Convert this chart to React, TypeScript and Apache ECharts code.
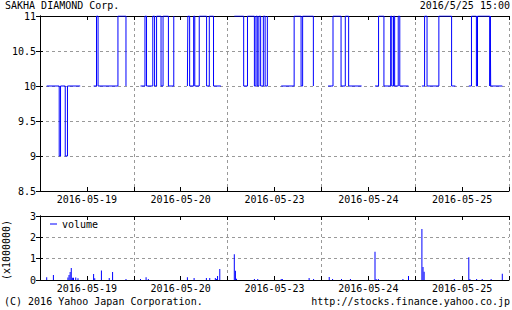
import React, { useEffect, useRef } from 'react';
import * as echarts from 'echarts';

const stockName = 'SAKHA DIAMOND Corp.';
const stamp = '2016/5/25 15:00';
const copyright = '(C) 2016 Yahoo Japan Corporation.';
const sourceUrl = 'http://stocks.finance.yahoo.co.jp';
const volumeUnit = '(x1000000)';
const dayLabels = ['2016-05-19', '2016-05-20', '2016-05-23', '2016-05-24', '2016-05-25'];

// price change points per trading session: [time, price]
const price0519am: [string, number][] = [['09:00', 10], ['09:56', 9], ['10:02', 10], ['10:23', 9], ['10:33', 10], ['11:30', 10]];
const price0519pm: [string, number][] = [['12:30', 10], ['12:43', 11], ['12:50', 10], ['14:19', 11], ['14:55', 10]];
const price0520am: [string, number][] = [['09:00', 10], ['09:20', 11], ['09:27', 10], ['09:55', 11], ['10:03', 10], ['10:12', 11], ['10:32', 10], ['10:41', 11], ['11:05', 10], ['11:29', 11]];
const price0520pm: [string, number][] = [['12:30', 10], ['12:32', 11], ['12:40', 10], ['12:58', 11], ['13:03', 10], ['13:23', 11], ['13:56', 10], ['14:08', 11], ['14:27', 10], ['15:00', 10]];
const price0523am: [string, number][] = [['09:00', 11], ['09:42', 10], ['09:59', 11], ['10:30', 10], ['10:37', 11], ['10:43', 10], ['10:50', 11], ['10:58', 10], ['11:10', 11], ['11:18', 10], ['11:28', 11]];
const price0523pm: [string, number][] = [['12:30', 10], ['13:28', 11], ['13:59', 10], ['14:06', 11], ['14:54', 10]];
const price0524am: [string, number][] = [['09:00', 10], ['09:22', 11], ['09:58', 10], ['10:17', 11], ['10:32', 10], ['11:30', 10]];
const price0524pm: [string, number][] = [['12:30', 10], ['12:46', 11], ['13:10', 10], ['13:40', 11], ['13:45', 10], ['13:53', 11], ['13:58', 10], ['14:14', 11], ['14:21', 10], ['15:00', 10]];
const price0525am: [string, number][] = [['09:00', 10], ['09:12', 11], ['09:23', 10], ['10:16', 11], ['11:13', 10], ['11:30', 10]];
const price0525pm: [string, number][] = [['12:30', 10], ['12:42', 11], ['13:04', 10], ['13:09', 11], ['14:04', 10], ['14:06', 11], ['14:08', 10], ['15:00', 10]];

// 5-minute volume (shares): [time, volume]
const vol0519: [string, number][] = [['09:00', 130000], ['09:30', 230000], ['10:35', 120000], ['10:40', 230000], ['10:45', 380000], ['10:50', 560000], ['10:55', 100000], ['11:00', 100000], ['11:10', 120000], ['11:20', 80000], ['12:30', 280000], ['12:35', 80000], ['13:05', 440000], ['13:40', 90000], ['13:55', 370000], ['14:55', 50000]];
const vol0520: [string, number][] = [['09:00', 50000], ['09:25', 130000], ['09:35', 50000], ['12:30', 130000], ['13:00', 90000], ['13:55', 90000], ['14:10', 90000], ['14:35', 90000], ['14:40', 50000], ['14:45', 190000], ['14:55', 510000]];
const vol0523: [string, number][] = [['09:00', 1210000], ['09:05', 430000], ['09:10', 60000], ['10:30', 50000], ['10:45', 50000], ['12:30', 50000], ['12:35', 50000], ['14:35', 90000], ['14:55', 50000]];
const vol0524: [string, number][] = [['09:05', 140000], ['09:20', 50000], ['10:00', 50000], ['10:40', 50000], ['12:30', 1320000], ['12:35', 50000], ['12:45', 50000], ['14:35', 50000], ['15:00', 190000]];
const vol0525: [string, number][] = [['09:00', 2390000], ['09:05', 610000], ['09:10', 390000], ['11:25', 50000], ['12:30', 1070000], ['12:35', 50000], ['13:05', 50000], ['13:30', 50000], ['14:10', 50000], ['15:00', 290000]];

const priceSessions: [number, [string, number][]][] = [
  [0, price0519am], [0, price0519pm], [1, price0520am], [1, price0520pm], [2, price0523am],
  [2, price0523pm], [3, price0524am], [3, price0524pm], [4, price0525am], [4, price0525pm],
];
const volumeDays = [vol0519, vol0520, vol0523, vol0524, vol0525];

// axis: each day spans 08:30-15:30 (420 minutes)
const DAY_START = 8 * 60 + 30;
const DAY_LEN = 420;
const toX = (day: number, t: string) => {
  const [h, m] = t.split(':').map(Number);
  return day * DAY_LEN + (h * 60 + m - DAY_START);
};

const FONT = '"DejaVu Sans Mono", monospace';
const BLUE = '#0000ff';
const GRID_GRAY = '#999999';

function bottomAxis(gridIndex: number) {
  return {
    type: 'value', gridIndex, position: 'bottom', min: 0, max: DAY_LEN * 5, interval: DAY_LEN / 2,
    axisLine: { show: true, onZero: false, lineStyle: { color: '#000', width: 1 } },
    axisTick: { show: true, inside: true, length: 4, lineStyle: { color: '#000' } },
    axisLabel: {
      show: true, margin: 3, color: '#000', fontFamily: FONT, fontSize: 10,
      formatter: (v: number) => {
        const k = Math.round(v / (DAY_LEN / 2));
        return k % 2 === 1 ? dayLabels[(k - 1) / 2] : '';
      },
    },
    splitLine: { show: false },
  };
}
function topAxis(gridIndex: number) {
  return {
    type: 'value', gridIndex, position: 'top', min: 0, max: DAY_LEN * 5, interval: DAY_LEN,
    axisLine: { show: true, onZero: false, lineStyle: { color: '#000', width: 1 } },
    axisTick: { show: true, inside: true, length: 4, lineStyle: { color: '#000' } },
    minorTick: { show: true, splitNumber: 2, length: 4, lineStyle: { color: '#000' } },
    axisLabel: { show: false },
    splitLine: { show: true, lineStyle: { color: GRID_GRAY, type: [3, 3], width: 1 } },
  };
}
function leftAxis(gridIndex: number, min: number, max: number, interval: number, fmt?: (v: number) => string) {
  return {
    type: 'value', gridIndex, position: 'left', min, max, interval,
    axisLine: { show: true, lineStyle: { color: '#000', width: 1 } },
    axisTick: { show: true, inside: true, length: 3, lineStyle: { color: '#000' } },
    axisLabel: { show: true, margin: 4, color: '#000', fontFamily: FONT, fontSize: 10, formatter: fmt },
    splitLine: { show: true, lineStyle: { color: GRID_GRAY, type: [3, 3], width: 1 } },
  };
}
function rightAxis(gridIndex: number, min: number, max: number, interval: number) {
  return {
    type: 'value', gridIndex, position: 'right', min, max, interval,
    axisLine: { show: true, lineStyle: { color: '#000', width: 1 } },
    axisTick: { show: true, inside: true, length: 4, lineStyle: { color: '#000' } },
    axisLabel: { show: false },
    splitLine: { show: false },
  };
}

export default function App() {
  const ref = useRef<HTMLDivElement>(null);
  useEffect(() => {
    if (!ref.current) return;
    const chart = echarts.init(ref.current, null, { renderer: 'svg' });
    const priceSeries = priceSessions.map(([day, pts]) => ({
      type: 'line', xAxisIndex: 0, yAxisIndex: 0, step: 'end', symbol: 'none', showSymbol: false,
      silent: true, lineStyle: { color: BLUE, width: 1 },
      data: pts.map(([t, v]) => [toX(day, t), v]),
    }));
    const volumeData: number[][] = [];
    volumeDays.forEach((arr, day) => arr.forEach(([t, v]) => volumeData.push([toX(day, t), v])));
    chart.setOption({
      animation: false,
      backgroundColor: '#fff',
      textStyle: { fontFamily: FONT, fontSize: 10, color: '#000' },
      title: [
        { text: stockName, left: 5, top: 0, padding: 0, textStyle: { fontFamily: FONT, fontSize: 10, fontWeight: 'normal', color: '#000' } },
        { text: stamp, right: 2, top: 0, padding: 0, textStyle: { fontFamily: FONT, fontSize: 10, fontWeight: 'normal', color: '#000' } },
      ],
      grid: [
        { left: 40, right: 1, top: 16, height: 175 },
        { left: 40, right: 1, top: 216, height: 64 },
      ],
      xAxis: [bottomAxis(0), topAxis(0), bottomAxis(1), topAxis(1)],
      yAxis: [
        leftAxis(0, 8.5, 11, 0.5),
        rightAxis(0, 8.5, 11, 0.5),
        leftAxis(1, 0, 3000000, 1000000, (v: number) => String(v / 1000000)),
        rightAxis(1, 0, 3000000, 1000000),
      ],
      legend: {
        data: ['volume'], left: 50, top: 219, padding: 0, icon: 'rect', itemWidth: 7, itemHeight: 1,
        selectedMode: false, textStyle: { fontFamily: FONT, fontSize: 10, color: '#000' },
      },
      graphic: [
        { type: 'text', x: 6, y: 250, rotation: Math.PI / 2, style: { text: volumeUnit, align: 'center', verticalAlign: 'middle', font: `10px ${FONT}`, fill: '#000' } },
        { type: 'text', x: 4, y: 301, style: { text: copyright, align: 'left', verticalAlign: 'middle', font: `10px ${FONT}`, fill: '#000' } },
        { type: 'text', x: 510, y: 301, style: { text: sourceUrl, align: 'right', verticalAlign: 'middle', font: `10px ${FONT}`, fill: '#000' } },
      ],
      series: [
        ...priceSeries,
        {
          name: 'volume', type: 'bar', xAxisIndex: 2, yAxisIndex: 2, barWidth: 1, silent: true,
          itemStyle: { color: BLUE }, data: volumeData,
        },
      ],
    });
    return () => chart.dispose();
  }, []);
  return <div ref={ref} style={{ position: 'fixed', left: 0, top: 0, width: 512, height: 310, background: '#fff' }} />;
}
